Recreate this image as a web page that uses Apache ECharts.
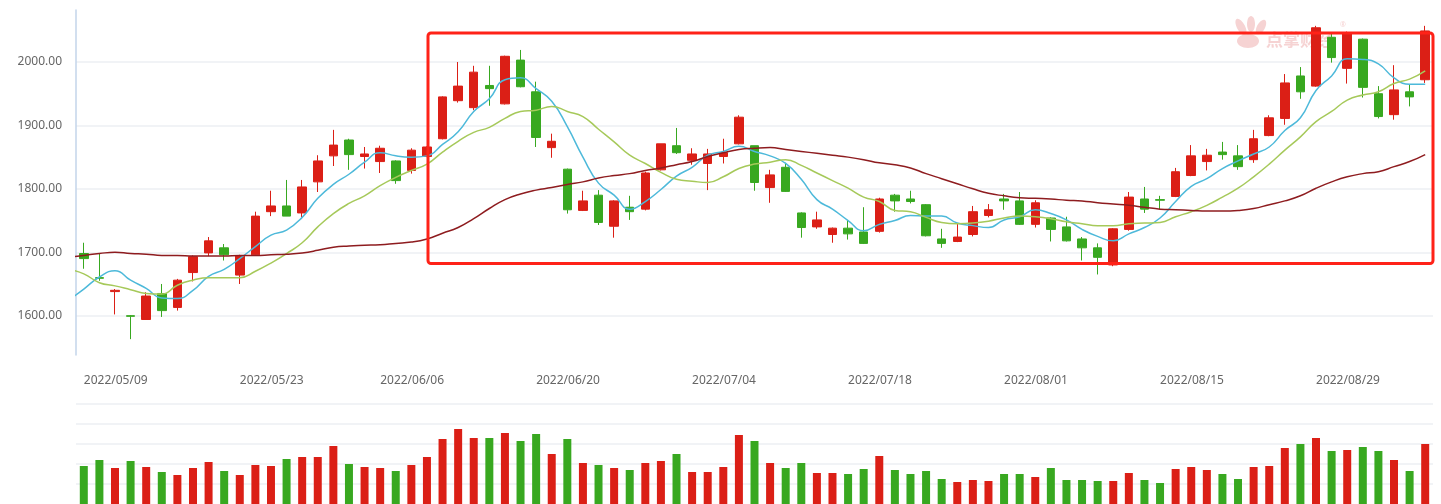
<!DOCTYPE html>
<html><head><meta charset="utf-8">
<script src="https://cdn.jsdelivr.net/npm/echarts@6/dist/echarts.min.js"></script>
<style>html,body{margin:0;padding:0;background:#fff}#c{width:1441px;height:504px}</style>
</head><body><div id="c"></div><script>
// categories (first entry is the day before the visible window; only the MA lines use it)
const dates = ['2022/05/06',
'2022/05/09','2022/05/10','2022/05/11','2022/05/12','2022/05/13',
'2022/05/16','2022/05/17','2022/05/18','2022/05/19','2022/05/20',
'2022/05/23','2022/05/24','2022/05/25','2022/05/26','2022/05/27',
'2022/05/30','2022/05/31','2022/06/01','2022/06/02',
'2022/06/06','2022/06/07','2022/06/08','2022/06/09','2022/06/10',
'2022/06/13','2022/06/14','2022/06/15','2022/06/16','2022/06/17',
'2022/06/20','2022/06/21','2022/06/22','2022/06/23','2022/06/24',
'2022/06/27','2022/06/28','2022/06/29','2022/06/30','2022/07/01',
'2022/07/04','2022/07/05','2022/07/06','2022/07/07','2022/07/08',
'2022/07/11','2022/07/12','2022/07/13','2022/07/14','2022/07/15',
'2022/07/18','2022/07/19','2022/07/20','2022/07/21','2022/07/22',
'2022/07/25','2022/07/26','2022/07/27','2022/07/28','2022/07/29',
'2022/08/01','2022/08/02','2022/08/03','2022/08/04','2022/08/05',
'2022/08/08','2022/08/09','2022/08/10','2022/08/11','2022/08/12',
'2022/08/15','2022/08/16','2022/08/17','2022/08/18','2022/08/19',
'2022/08/22','2022/08/23','2022/08/24','2022/08/25','2022/08/26',
'2022/08/29','2022/08/30','2022/08/31','2022/09/01','2022/09/02',
'2022/09/05','2022/09/06','2022/09/07'];
const tickLabels = ['2022/05/09','2022/05/23','2022/06/06','2022/06/20','2022/07/04','2022/07/18','2022/08/01','2022/08/15','2022/08/29'];

// candles from 2022/05/09
const opens  = [1698,1660,1638,1600,1594,1635,1613,1668,1699,1707,1664,1696,1764,1773,1762,1811,1852,1877,1851,1843,1844,1829,1851,1879,1939,1928,1963,1934,2003,1953,1865,1831,1766,1790,1741,1771,1768,1830,1868,1845,1840,1851,1871,1868,1802,1834,1762,1740,1728,1738,1732,1733,1790,1784,1775,1721,1717,1728,1758,1784,1781,1744,1754,1740,1721,1707,1680,1736,1784,1783,1788,1821,1843,1858,1852,1846,1884,1911,1978,1962,2039,1990,2036,1950,1917,1953,1972];
const closes = [1690,1659,1640,1599,1631,1608,1656,1693,1718,1696,1694,1757,1773,1757,1803,1844,1869,1854,1855,1864,1813,1861,1866,1945,1962,1984,1958,2009,1961,1881,1875,1767,1781,1747,1781,1764,1825,1871,1857,1855,1855,1857,1913,1810,1822,1796,1739,1751,1738,1729,1714,1784,1781,1780,1726,1714,1724,1764,1767,1781,1744,1778,1736,1718,1707,1692,1737,1787,1768,1782,1827,1852,1853,1854,1835,1879,1912,1967,1953,2054,2007,2046,1960,1914,1956,1945,2049];
const lows   = [1674,1655,1602,1563,1594,1598,1608,1654,1694,1687,1650,1695,1757,1757,1755,1795,1836,1830,1832,1825,1808,1824,1850,1878,1936,1924,1931,1933,1960,1866,1849,1761,1765,1743,1723,1751,1766,1829,1855,1838,1798,1840,1870,1797,1778,1795,1723,1737,1715,1720,1713,1731,1764,1777,1725,1707,1716,1725,1755,1767,1743,1739,1717,1717,1687,1665,1678,1734,1762,1768,1787,1820,1829,1846,1830,1841,1883,1901,1942,1961,1999,1966,1944,1911,1909,1930,1967];
const highs  = [1715,1698,1642,1601,1637,1650,1658,1695,1724,1713,1696,1764,1797,1814,1814,1853,1893,1879,1866,1868,1845,1864,1867,1946,2000,1994,1994,2010,2019,1969,1887,1832,1797,1798,1782,1789,1827,1871,1896,1864,1863,1879,1916,1868,1830,1841,1763,1764,1739,1751,1771,1786,1792,1797,1776,1737,1746,1773,1776,1792,1795,1782,1755,1756,1724,1714,1738,1795,1803,1789,1833,1869,1863,1874,1869,1893,1916,1981,1992,2057,2045,2048,2037,1962,1995,1964,2057];
const volumes = [190,220,180,215,185,160,145,180,210,165,145,195,190,225,235,235,290,200,185,180,165,195,235,325,375,330,330,355,315,350,250,325,205,195,180,170,205,215,250,160,160,
185,345,315,205,180,205,155,155,150,175,240,170,150,165,125,110,120,115,150,150,135,180,120,120,115,115,155,120,105,
175,185,170,150,125,185,190,280,300,330,265,270,285,265,220,165,300];

// moving-average lines (from 2022/05/06)
const ma5 = [1624,1642,1661,1671,1656,1643,1628,1627,1640,1662,1673,1690,1709,1727,1735,1755,1785,1807,1823,1842,1857,1852,1850,1852,1870,1890,1922,1942,1972,1975,1958,1938,1898,1850,1809,1790,1768,1780,1799,1820,1834,1853,1859,1867,1859,1852,1840,1815,1783,1768,1750,1734,1744,1750,1758,1757,1757,1746,1742,1739,1751,1756,1767,1761,1751,1736,1725,1718,1729,1739,1754,1780,1804,1816,1832,1844,1855,1866,1892,1912,1955,1978,2005,2004,1997,1975,1965,1965];
const ma10 = [1673,1666,1652,1647,1641,1635,1634,1648,1656,1660,1660,1660,1670,1683,1698,1715,1740,1761,1777,1789,1805,1818,1829,1839,1858,1875,1889,1897,1911,1922,1924,1930,1922,1914,1894,1874,1853,1840,1826,1815,1812,1810,1819,1832,1839,1842,1846,1837,1825,1813,1801,1787,1780,1766,1764,1755,1747,1745,1746,1749,1754,1757,1756,1753,1748,1745,1742,1742,1745,1746,1747,1756,1764,1774,1787,1801,1819,1839,1861,1882,1906,1922,1940,1948,1953,1966,1973,1986];
const ma60 = [1692,1695,1698,1700,1698,1697,1695,1695,1694,1694,1694,1695,1695,1696,1697,1699,1703,1708,1710,1711,1712,1714,1716,1721,1730,1739,1753,1769,1783,1792,1798,1802,1807,1811,1817,1821,1824,1829,1833,1838,1843,1851,1857,1862,1864,1865,1862,1859,1856,1853,1850,1846,1841,1838,1833,1824,1816,1808,1800,1793,1789,1786,1785,1784,1782,1781,1778,1776,1774,1771,1768,1767,1766,1765,1765,1766,1769,1775,1781,1789,1801,1811,1819,1824,1827,1835,1843,1854];

const UP = '#db1f16', DOWN = '#38a820';
const candleData = ['-'].concat(opens.map((o, i) => [o, closes[i], lows[i], highs[i]]));
const volData = ['-'].concat(volumes.map((v, i) => ({
  value: v, itemStyle: { color: closes[i] >= opens[i] ? UP : DOWN }
})));

const chart = echarts.init(document.getElementById('c'), null, { renderer: 'canvas' });
const font = 'Noto Sans';
const splitStyle = { color: '#f1f3f6', width: 2 };
chart.setOption({
  animation: false,
  backgroundColor: '#fff',
  grid: [
    { left: 76, right: 8, top: 10, height: 345, containLabel: false },
    { left: 76, right: 8, top: 404, height: 100, containLabel: false }
  ],
  xAxis: [
    { type: 'category', gridIndex: 0, data: dates, min: 1, boundaryGap: true,
      axisLine: { show: false }, axisTick: { show: false }, splitLine: { show: false },
      axisLabel: { interval: (i, v) => tickLabels.indexOf(v) >= 0, align: 'left', margin: 20,
        color: '#666', fontSize: 12, fontFamily: font } },
    { type: 'category', gridIndex: 1, data: dates, min: 1, boundaryGap: true,
      axisLine: { show: false }, axisTick: { show: false }, axisLabel: { show: false }, splitLine: { show: false } }
  ],
  yAxis: [
    { type: 'value', gridIndex: 0, min: 1538, max: 2082, scale: true,
      axisLine: { show: true, lineStyle: { color: '#c3d4ea', width: 1.5 } },
      axisTick: { show: false },
      axisLabel: { formatter: v => v.toFixed(2), margin: 14, color: '#666', fontSize: 12, fontFamily: font,
        showMinLabel: false, showMaxLabel: false },
      splitLine: { show: true, showMinLine: false, showMaxLine: false, lineStyle: splitStyle } },
    { type: 'value', gridIndex: 1, min: 0, max: 500, interval: 100,
      axisLine: { show: false }, axisTick: { show: false }, axisLabel: { show: false },
      splitLine: { show: true, showMinLine: false, lineStyle: splitStyle } }
  ],
  series: [
    { type: 'candlestick', xAxisIndex: 0, yAxisIndex: 0, data: candleData, barWidth: 9, clip: true,
      itemStyle: { color: UP, color0: DOWN, borderColor: UP, borderColor0: DOWN, borderWidth: 1 } },
    { type: 'line', name: 'MA5', xAxisIndex: 0, yAxisIndex: 0, data: ma5, smooth: true, showSymbol: false, symbol: 'none', clip: true,
      lineStyle: { color: '#4db9da', width: 1.5 } },
    { type: 'line', name: 'MA10', xAxisIndex: 0, yAxisIndex: 0, data: ma10, smooth: true, showSymbol: false, symbol: 'none', clip: true,
      lineStyle: { color: '#a6c95a', width: 1.5 } },
    { type: 'line', name: 'MA60', xAxisIndex: 0, yAxisIndex: 0, data: ma60, smooth: true, showSymbol: false, symbol: 'none', clip: true,
      lineStyle: { color: '#8e1c1f', width: 1.5 } },
    { type: 'bar', xAxisIndex: 1, yAxisIndex: 1, data: volData, barWidth: 8, clip: true }
  ],
  graphic: [
    { type: 'group', z: -10, silent: true, children: [
      { type: 'ellipse', shape: { cx: 1241, cy: 27, rx: 4, ry: 9 }, rotation: 0.5, originX: 1241, originY: 27, style: { fill: '#f6d3d3' } },
      { type: 'ellipse', shape: { cx: 1251, cy: 24, rx: 4, ry: 8 }, style: { fill: '#f6d3d3' } },
      { type: 'ellipse', shape: { cx: 1261, cy: 27, rx: 4, ry: 8 }, rotation: -0.5, originX: 1261, originY: 27, style: { fill: '#f6d3d3' } },
      { type: 'ellipse', shape: { cx: 1248, cy: 41, rx: 11, ry: 7 }, style: { fill: '#f6d3d3' } },
      { type: 'text', x: 1266, y: 31, style: { text: '点掌财经', fontSize: 17, fontWeight: 'bold', fontFamily: 'Noto Sans CJK SC', fill: '#f6d3d3' } },
      { type: 'text', x: 1340, y: 21, style: { text: '®', fontSize: 7, fontFamily: font, fill: '#f6d3d3' } }
    ] },
    { type: 'rect', z: 100, silent: true,
      shape: { x: 428, y: 33, width: 1005, height: 230.5, r: 3 },
      style: { fill: 'none', stroke: '#ff2218', lineWidth: 3 } }
  ]
});
</script></body></html>
